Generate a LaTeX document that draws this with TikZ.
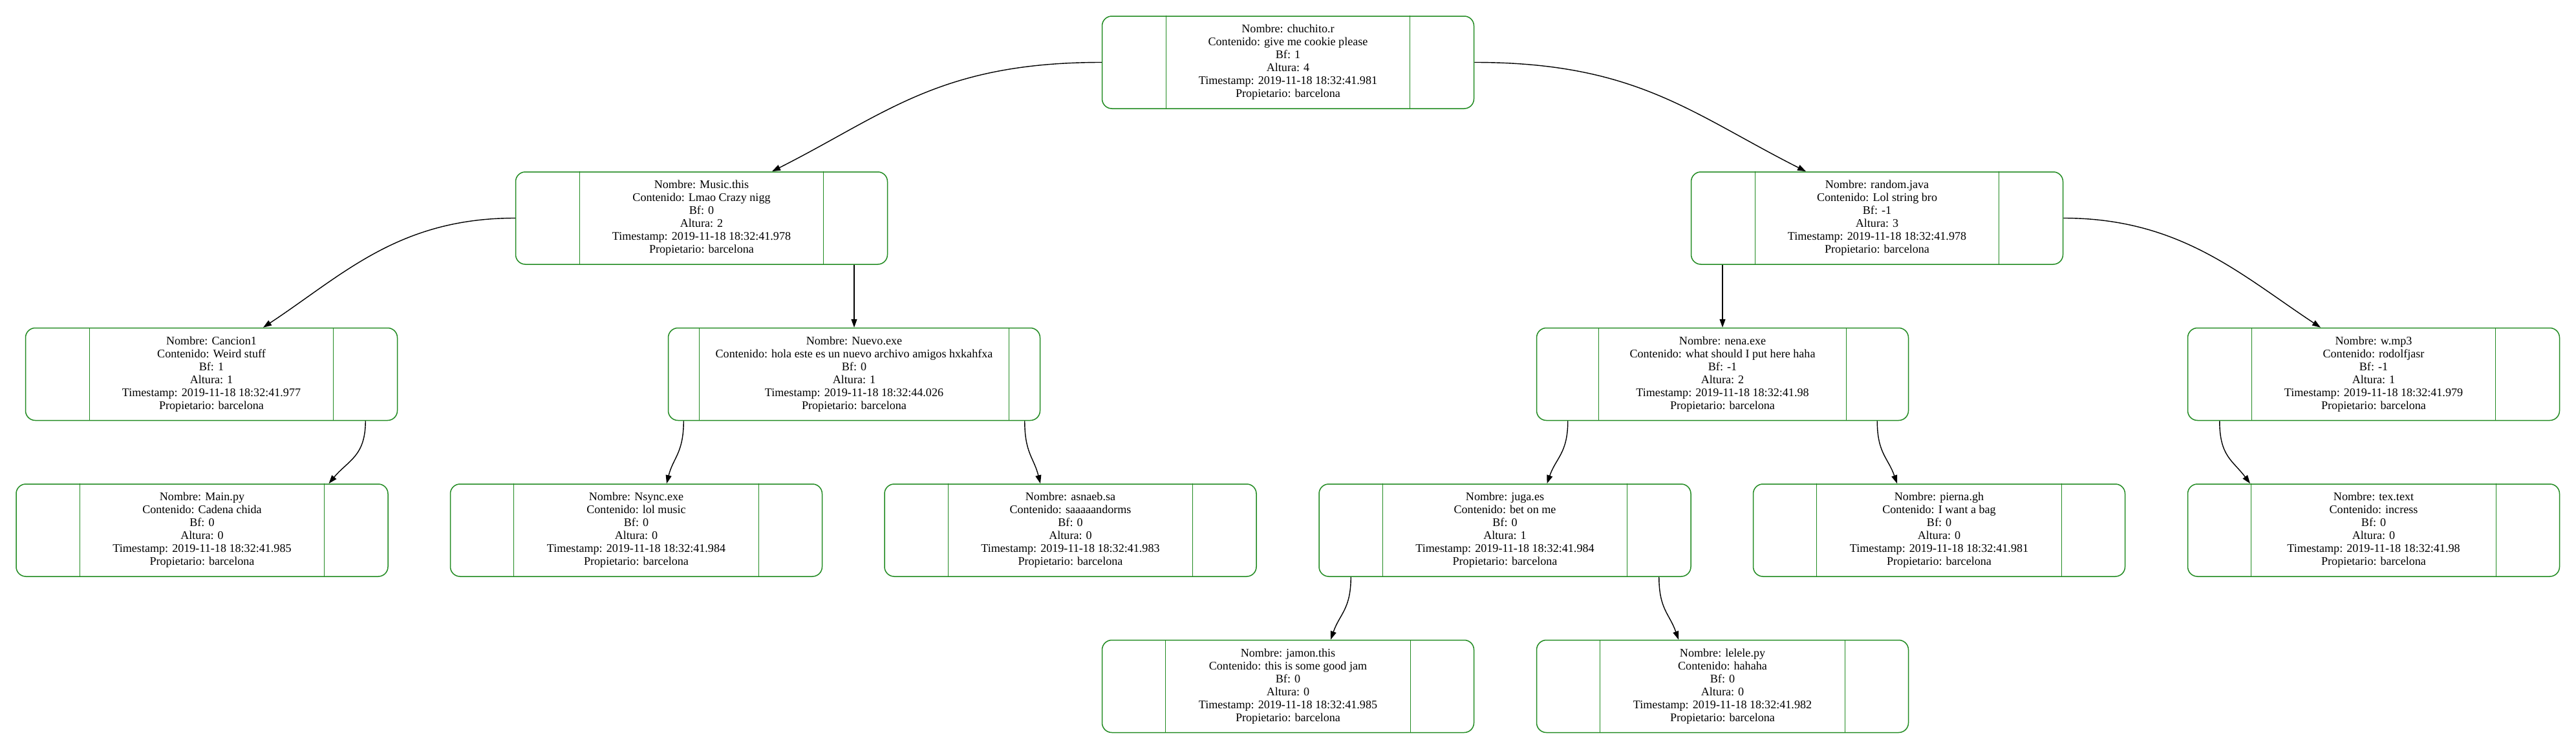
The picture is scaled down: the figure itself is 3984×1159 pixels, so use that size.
\documentclass[tikz,border=0pt]{standalone}
\usepackage{fontspec}
\setmainfont{Liberation Serif}
\usetikzlibrary{arrows.meta}
\definecolor{recgreen}{RGB}{34,139,34}
\newcommand\recdivs[3]{%
  \draw[divider] ([xshift=#2pt]#1.north west) -- ([xshift=#2pt]#1.south west);
  \draw[divider] ([xshift=-#3pt]#1.north east) -- ([xshift=-#3pt]#1.south east);}
\begin{document}
\begin{tikzpicture}[x=1pt,y=-1pt,
  rec/.style={rectangle, draw=recgreen, line width=1.5pt, rounded corners=15pt,
    minimum width=575pt, minimum height=143pt, inner sep=0pt, align=center,
    font=\fontsize{18.1}{20}\selectfont},
  conn/.style={draw=black, line width=1.4pt, -{Triangle[length=13pt,width=9pt]}},
  divider/.style={draw=recgreen, line width=1.3pt}]
\fill[white] (0,0) rectangle (3984,1159);
\useasboundingbox (0,0) rectangle (3984,1159);

\node[rec] (root) at (1992,96.5) {Nombre: chuchito.r\\Contenido: give me cookie please\\Bf: 1\\Altura: 4\\Timestamp: 2019-11-18 18:32:41.981\\Propietario: barcelona};
\node[rec] (music) at (1085,337.5) {Nombre: Music.this\\Contenido: Lmao Crazy nigg\\Bf: 0\\Altura: 2\\Timestamp: 2019-11-18 18:32:41.978\\Propietario: barcelona};
\node[rec] (random) at (2903,337.5) {Nombre: random.java\\Contenido: Lol string bro\\Bf: -1\\Altura: 3\\Timestamp: 2019-11-18 18:32:41.978\\Propietario: barcelona};
\node[rec] (cancion) at (327,579) {Nombre: Cancion1\\Contenido: Weird stuff\\Bf: 1\\Altura: 1\\Timestamp: 2019-11-18 18:32:41.977\\Propietario: barcelona};
\node[rec] (nuevo) at (1321,579) {Nombre: Nuevo.exe\\Contenido: hola este es un nuevo archivo amigos hxkahfxa\\Bf: 0\\Altura: 1\\Timestamp: 2019-11-18 18:32:44.026\\Propietario: barcelona};
\node[rec] (nena) at (2664,579) {Nombre: nena.exe\\Contenido: what should I put here haha\\Bf: -1\\Altura: 2\\Timestamp: 2019-11-18 18:32:41.98\\Propietario: barcelona};
\node[rec] (wmp) at (3671,579) {Nombre: w.mp3\\Contenido: rodolfjasr\\Bf: -1\\Altura: 1\\Timestamp: 2019-11-18 18:32:41.979\\Propietario: barcelona};
\node[rec] (main) at (312.5,820.5) {Nombre: Main.py\\Contenido: Cadena chida\\Bf: 0\\Altura: 0\\Timestamp: 2019-11-18 18:32:41.985\\Propietario: barcelona};
\node[rec] (nsync) at (984,820.5) {Nombre: Nsync.exe\\Contenido: lol music\\Bf: 0\\Altura: 0\\Timestamp: 2019-11-18 18:32:41.984\\Propietario: barcelona};
\node[rec] (asnaeb) at (1655.5,820.5) {Nombre: asnaeb.sa\\Contenido: saaaaandorms\\Bf: 0\\Altura: 0\\Timestamp: 2019-11-18 18:32:41.983\\Propietario: barcelona};
\node[rec] (juga) at (2327.5,820.5) {Nombre: juga.es\\Contenido: bet on me\\Bf: 0\\Altura: 1\\Timestamp: 2019-11-18 18:32:41.984\\Propietario: barcelona};
\node[rec] (pierna) at (2999,820.5) {Nombre: pierna.gh\\Contenido: I want a bag\\Bf: 0\\Altura: 0\\Timestamp: 2019-11-18 18:32:41.981\\Propietario: barcelona};
\node[rec] (tex) at (3671,820.5) {Nombre: tex.text\\Contenido: incress\\Bf: 0\\Altura: 0\\Timestamp: 2019-11-18 18:32:41.98\\Propietario: barcelona};
\node[rec] (jamon) at (1992,1062) {Nombre: jamon.this\\Contenido: this is some good jam\\Bf: 0\\Altura: 0\\Timestamp: 2019-11-18 18:32:41.985\\Propietario: barcelona};
\node[rec] (lelele) at (2664,1062) {Nombre: lelele.py\\Contenido: hahaha\\Bf: 0\\Altura: 0\\Timestamp: 2019-11-18 18:32:41.982\\Propietario: barcelona};

\recdivs{root}{100}{100}
\recdivs{music}{100}{100}
\recdivs{random}{100}{100}
\recdivs{cancion}{100}{100}
\recdivs{nuevo}{49}{49}
\recdivs{nena}{97}{97}
\recdivs{wmp}{100}{100}
\recdivs{main}{99}{99}
\recdivs{nsync}{99}{99}
\recdivs{asnaeb}{99}{99}
\recdivs{juga}{99}{99}
\recdivs{pierna}{99}{99}
\recdivs{tex}{99}{99}
\recdivs{jamon}{99}{99}
\recdivs{lelele}{99}{99}

\draw[conn] (root.west) .. controls +(-250,0) and +(178,-90) .. ([xshift=109pt]music.north);
\draw[conn] (root.east) .. controls +(250,0) and +(-178,-90) .. ([xshift=-110pt]random.north);
\draw[conn] (music.west) .. controls +(-180,0) and +(124,-82) .. ([xshift=80pt]cancion.north);
\draw[conn] (random.east) .. controls +(180,0) and +(-124,-82) .. ([xshift=-82pt]wmp.north);
\draw[conn] (music.south -| nuevo.north) -- (nuevo.north);
\draw[conn] (random.south -| nena.north) -- (nena.north);
\draw[conn] ([xshift=-50pt]cancion.south east) .. controls +(0,55) and +(30,-36) .. ([xshift=196pt]main.north);
\draw[conn] ([xshift=24.5pt]nuevo.south west) .. controls +(0,50) and +(10,-40) .. ([xshift=47pt]nsync.north);
\draw[conn] ([xshift=-24.5pt]nuevo.south east) .. controls +(0,50) and +(-10,-40) .. ([xshift=-46.5pt]asnaeb.north);
\draw[conn] ([xshift=49pt]nena.south west) .. controls +(0,50) and +(14,-40) .. ([xshift=65pt]juga.north);
\draw[conn] ([xshift=-49pt]nena.south east) .. controls +(0,50) and +(-14,-40) .. ([xshift=-65pt]pierna.north);
\draw[conn] ([xshift=50pt]wmp.south west) .. controls +(0,55) and +(-27,-36) .. ([xshift=-191pt]tex.north);
\draw[conn] ([xshift=50pt]juga.south west) .. controls +(0,50) and +(14,-40) .. ([xshift=66pt]jamon.north);
\draw[conn] ([xshift=-50pt]juga.south east) .. controls +(0,50) and +(-14,-40) .. ([xshift=-68pt]lelele.north);
\end{tikzpicture}
\end{document}
